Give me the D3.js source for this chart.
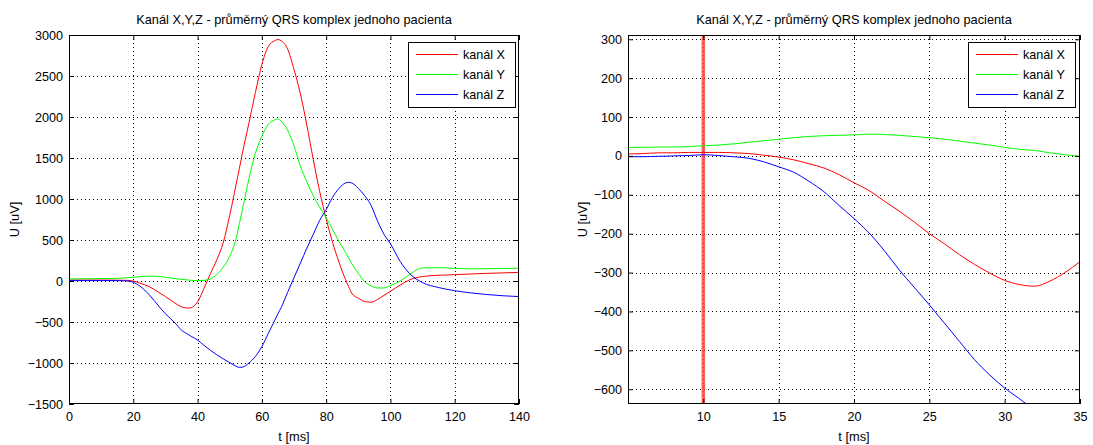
<!DOCTYPE html>
<html><head><meta charset="utf-8">
<script src="https://cdn.jsdelivr.net/npm/d3@7"></script>
<style>
body{margin:0;background:#fff;}
text{font-family:"Liberation Sans",Arial,Helvetica,sans-serif;}
</style></head>
<body><svg id="c" width="1093" height="445"></svg>
<script>
const title = "Kanál X,Y,Z - průměrný QRS komplex jednoho pacienta";
const seriesNames = ["kanál X","kanál Y","kanál Z"];
const seriesColors = ["#ff0000","#00ff00","#0000ff"];
const xLabel = "t [ms]";
const yLabel = "U [uV]";

// Left panel: full QRS complex
const leftT = [0,5,10,15,18,20,22,25,28,30,33,35,37,38,40,42,44,46,48,50,52,53,54,56,58,60,62,64,65,66,68,70,72,74,76,78,80,82,84,86,87,88,90,92,94,96,98,100,103,106,110,115,120,125,130,135,140];
const leftX = [12,12,12,10,8,0,-25,-70,-140,-190,-270,-315,-330,-325,-255,-90,90,260,470,800,1180,1370,1570,1930,2300,2640,2860,2930,2945,2930,2830,2580,2280,1900,1480,1090,760,470,230,20,-70,-150,-210,-250,-258,-225,-175,-126,-50,15,55,70,77,86,93,99,105];
const leftY = [25,28,30,32,40,45,52,60,55,45,30,20,12,8,5,8,25,80,170,300,520,700,880,1250,1560,1764,1910,1965,1976,1950,1840,1650,1400,1210,1040,900,770,630,480,350,280,210,95,-10,-60,-85,-85,-55,0,80,160,162,155,148,150,152,155];
const leftZ = [5,5,5,5,0,-15,-60,-170,-310,-400,-512,-600,-650,-675,-720,-785,-845,-900,-950,-995,-1040,-1053,-1050,-1000,-920,-800,-640,-480,-400,-325,-140,40,220,400,570,740,870,1020,1130,1195,1203,1195,1130,1040,920,730,570,455,240,90,-20,-80,-118,-145,-165,-180,-190];

// Right panel: zoomed detail
const rightT = [5,6,7,8,9,10,11,12,13,14,15,16,17,18,19,20,21,22,23,24,25,26,27,28,29,30,31,32,33,34,35];
const rightX = [5,6,8,8,9,9,9,8,6,2,-3,-10,-20,-31,-48,-69,-89,-116,-142,-170,-200,-226,-254,-279,-301,-320,-331,-335,-322,-300,-272];
const rightY = [22,22,23,23,24,26,28,31,35,39,43,47,50,52,53,54,56,55,53,50,47,43,38,33,28,22,17,14,8,3,-1];
const rightZ = [-2,-2,-1,0,1,3,1,-2,-6,-15,-28,-42,-65,-92,-127,-161,-198,-243,-293,-338,-383,-430,-477,-524,-563,-597,-625,-655,null,null,null];
const markerT = [10];

const leftXTicks = [0,20,40,60,80,100,120,140];
const leftYTicks = [-1500,-1000,-500,0,500,1000,1500,2000,2500,3000];
const rightXTicks = [10,15,20,25,30,35];
const rightYTicks = [-600,-500,-400,-300,-200,-100,0,100,200,300];

const svg = d3.select("#c");

function panel(cfg){
  const {x0,x1,y0,y1,xDom,yDom,xTicks,yTicks,t,series,marker,id,legX} = cfg;
  const x = d3.scaleLinear().domain(xDom).range([x0,x1]);
  const y = d3.scaleLinear().domain(yDom).range([y1,y0]);
  const g = svg.append("g");
  g.append("rect").attr("x",x0).attr("y",y0).attr("width",x1-x0).attr("height",y1-y0).attr("fill","#fff");
  // grid
  g.selectAll(".gx").data(xTicks.filter(v=>x(v)>x0+1&&x(v)<x1-1)).join("line")
    .attr("x1",d=>Math.round(x(d))+0.5).attr("x2",d=>Math.round(x(d))+0.5).attr("y1",y0).attr("y2",y1)
    .attr("stroke","#000").attr("stroke-width",1).attr("stroke-dasharray","1,3");
  g.selectAll(".gy").data(yTicks.filter(v=>y(v)>y0+1&&y(v)<y1-1)).join("line")
    .attr("y1",d=>Math.round(y(d))+0.5).attr("y2",d=>Math.round(y(d))+0.5).attr("x1",x0).attr("x2",x1)
    .attr("stroke","#000").attr("stroke-width",1).attr("stroke-dasharray","1,3");
  // clip
  svg.append("clipPath").attr("id",id).append("rect").attr("x",x0).attr("y",y0).attr("width",x1-x0).attr("height",y1-y0);
  const cg = g.append("g").attr("clip-path",`url(#${id})`);
  if(marker){
    cg.selectAll(".mk").data(marker).join("line")
      .attr("x1",d=>x(d)).attr("x2",d=>x(d)).attr("y1",y0).attr("y2",y1)
      .attr("stroke","#ff4040").attr("stroke-opacity",0.85).attr("stroke-width",3.5);
  }
  const line = d3.line().defined(d=>d[1]!==null).x(d=>x(d[0])).y(d=>y(d[1])).curve(d3.curveMonotoneX);
  series.forEach((s,i)=>{
    cg.append("path").attr("d",line(t.map((tt,j)=>[tt,s[j]]))).attr("fill","none")
      .attr("stroke",seriesColors[i]).attr("stroke-width",1);
  });
  // axes (ticks inward on all sides)
  const tl = 5;
  const ax = [
    [d3.axisBottom(x).tickValues(xTicks).tickSize(tl).tickFormat(d3.format("d")), `translate(0,${y1})`],
    [d3.axisTop(x).tickValues(xTicks).tickSize(tl).tickFormat(""), `translate(0,${y0})`],
    [d3.axisLeft(y).tickValues(yTicks).tickSize(tl).tickFormat(d3.format("d")), `translate(${x0},0)`],
    [d3.axisRight(y).tickValues(yTicks).tickSize(tl).tickFormat(""), `translate(${x1},0)`]
  ];
  ax.forEach(([a,tr],k)=>{
    const ag = g.append("g").attr("transform",tr).call(a);
    ag.select(".domain").remove();
    ag.selectAll(".tick line").attr("stroke","#000")
      .attr(k<2?"y2":"x2", k===0? -tl : k===1 ? tl : k===2 ? tl : -tl);
    ag.selectAll("text").attr("fill","#000").style("font-size","12.6px");
    if(k===0) ag.selectAll("text").attr("y",8).attr("dy","0.71em");
    if(k===2) ag.selectAll("text").attr("x",-6);
  });
  g.append("rect").attr("x",x0+0.5).attr("y",y0+0.5).attr("width",x1-x0-1).attr("height",y1-y0-1)
    .attr("fill","none").attr("stroke","#000").attr("stroke-width",1);
  // labels
  const cx = (x0+x1)/2;
  g.append("text").attr("x",cx).attr("y",24).attr("text-anchor","middle").style("font-size","12.8px").text(title);
  g.append("text").attr("x",cx).attr("y",441).attr("text-anchor","middle").style("font-size","12.8px").text(xLabel);
  g.append("text").attr("transform",`translate(${cfg.ylx},${(y0+y1)/2}) rotate(-90)`).attr("text-anchor","middle").style("font-size","12.8px").text(yLabel);
  // legend
  const lw = 107, lh = 65, ly = 42;
  const lg = g.append("g").attr("transform",`translate(${legX},${ly})`);
  lg.append("rect").attr("x",0.5).attr("y",0.5).attr("width",lw).attr("height",lh).attr("fill","#fff").attr("stroke","#000");
  seriesNames.forEach((n,i)=>{
    const yy = 12.5 + i*20;
    lg.append("line").attr("x1",8).attr("x2",50).attr("y1",yy).attr("y2",yy).attr("stroke",seriesColors[i]).attr("stroke-width",1);
    lg.append("text").attr("x",55).attr("y",yy).attr("dy","0.35em").style("font-size","12.6px").text(n);
  });
}

panel({id:"cl",x0:69,x1:519,y0:35,y1:404,xDom:[0,140],yDom:[-1500,3000],xTicks:leftXTicks,yTicks:leftYTicks,
  t:leftT,series:[leftX,leftY,leftZ],legX:408,ylx:19});
panel({id:"cr",x0:628,x1:1080,y0:35,y1:404,xDom:[5,35],yDom:[-638,311],xTicks:rightXTicks,yTicks:rightYTicks,
  t:rightT,series:[rightX,rightY,rightZ],marker:markerT,legX:968,ylx:587});
</script></body></html>
